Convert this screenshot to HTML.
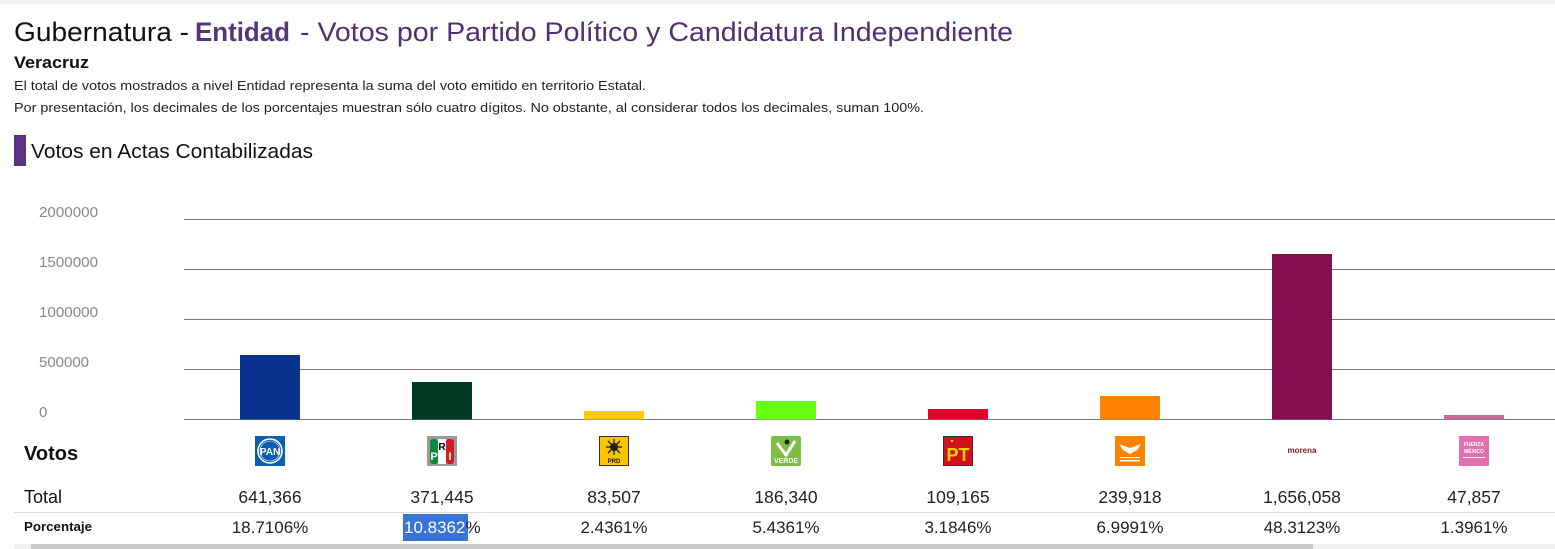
<!DOCTYPE html>
<html><head><meta charset="utf-8"><style>
html,body{margin:0;padding:0;background:#fff;width:1555px;height:549px;overflow:hidden}
svg{display:block}
text{font-family:"Liberation Sans",Arial,sans-serif}
</style></head><body>
<svg width="1555" height="549" viewBox="0 0 1555 549" xmlns="http://www.w3.org/2000/svg">
<rect x="0" y="0" width="1555" height="4" fill="#f2f2f2"/>
<!-- Title -->
<text x="14" y="41" font-size="27" fill="#111" textLength="175" lengthAdjust="spacingAndGlyphs">Gubernatura -</text>
<text x="195" y="41" font-size="27" font-weight="bold" fill="#553679" textLength="95" lengthAdjust="spacingAndGlyphs">Entidad</text>
<text x="300" y="41" font-size="27" fill="#52306f" textLength="713" lengthAdjust="spacingAndGlyphs">- Votos por Partido Político y Candidatura Independiente</text>
<text x="14" y="68" font-size="17" font-weight="bold" fill="#111" textLength="75" lengthAdjust="spacingAndGlyphs">Veracruz</text>
<text x="14" y="90" font-size="13" fill="#222" textLength="632" lengthAdjust="spacingAndGlyphs">El total de votos mostrados a nivel Entidad representa la suma del voto emitido en territorio Estatal.</text>
<text x="14" y="112" font-size="13" fill="#222" textLength="910" lengthAdjust="spacingAndGlyphs">Por presentación, los decimales de los porcentajes muestran sólo cuatro dígitos. No obstante, al considerar todos los decimales, suman 100%.</text>
<rect x="14" y="135" width="12" height="31" fill="#5a3480"/>
<text x="31" y="158" font-size="20" fill="#111" textLength="282" lengthAdjust="spacingAndGlyphs">Votos en Actas Contabilizadas</text>

<!-- Y labels -->
<g font-size="15" fill="#888">
<text x="39" y="217" textLength="59" lengthAdjust="spacingAndGlyphs">2000000</text>
<text x="39" y="267" textLength="59" lengthAdjust="spacingAndGlyphs">1500000</text>
<text x="39" y="317" textLength="59" lengthAdjust="spacingAndGlyphs">1000000</text>
<text x="39" y="367" textLength="50" lengthAdjust="spacingAndGlyphs">500000</text>
<text x="39" y="417">0</text>
</g>
<!-- Gridlines -->
<g stroke="#7a7a7a" stroke-width="1">
<line x1="184" y1="219.5" x2="1555" y2="219.5"/>
<line x1="184" y1="269.5" x2="1555" y2="269.5"/>
<line x1="184" y1="319.5" x2="1555" y2="319.5"/>
<line x1="184" y1="369.5" x2="1555" y2="369.5"/>
<line x1="184" y1="419.5" x2="1555" y2="419.5"/>
</g>
<!-- Bars -->
<rect x="240" y="355" width="60" height="64.5" fill="#0a338f"/>
<rect x="412" y="382" width="60" height="37.5" fill="#003a22"/>
<rect x="584" y="411" width="60" height="8.5" fill="#ffcc00"/>
<rect x="756" y="401" width="60" height="18.5" fill="#66ff10"/>
<rect x="928" y="409" width="60" height="10.5" fill="#e3002b"/>
<rect x="1100" y="396" width="60" height="23.5" fill="#ff8300"/>
<rect x="1272" y="254" width="60" height="165.5" fill="#850d52"/>
<rect x="1444" y="415" width="60" height="4.5" fill="#c8679a"/>

<!-- Table labels -->
<text x="24" y="460" font-size="20" font-weight="bold" fill="#111">Votos</text>
<text x="24" y="503" font-size="18" fill="#111">Total</text>
<line x1="14" y1="512.5" x2="1555" y2="512.5" stroke="#dcdcdc" stroke-width="1"/>
<text x="24" y="531" font-size="12.5" font-weight="bold" fill="#111" textLength="68" lengthAdjust="spacingAndGlyphs">Porcentaje</text>

<!-- Logos -->
<!-- PAN -->
<rect x="255" y="436" width="30" height="30" fill="#0c5fae"/>
<circle cx="270" cy="451" r="12" fill="none" stroke="#fff" stroke-width="1.6"/>
<circle cx="270" cy="451" r="10" fill="#0c5fae" stroke="#fff" stroke-width="0.6"/>
<text x="270" y="455" font-size="10" font-weight="bold" fill="#fff" text-anchor="middle">PAN</text>
<!-- PRI -->
<rect x="427" y="436" width="30" height="30" fill="#9a9a9a"/>
<rect x="430" y="439" width="8" height="25" fill="#0a8a3a" rx="3"/>
<rect x="438" y="439" width="8" height="25" fill="#fff"/>
<rect x="446" y="439" width="8" height="25" fill="#d41b24" rx="3"/>
<text x="434" y="460" font-size="11" font-weight="bold" fill="#fff" text-anchor="middle">P</text>
<text x="442" y="450" font-size="10" font-weight="bold" fill="#000" text-anchor="middle">R</text>
<text x="450" y="460" font-size="11" font-weight="bold" fill="#fff" text-anchor="middle">I</text>
<!-- PRD -->
<rect x="599.5" y="436.5" width="29" height="29" fill="#f9c500" stroke="#333" stroke-width="1"/>
<circle cx="614" cy="447" r="4" fill="#222"/>
<g stroke="#222" stroke-width="1.3">
<line x1="614" y1="439" x2="614" y2="455"/><line x1="606" y1="447" x2="622" y2="447"/>
<line x1="608" y1="441" x2="620" y2="453"/><line x1="620" y1="441" x2="608" y2="453"/>
</g>
<text x="614" y="463" font-size="6" font-weight="bold" fill="#222" text-anchor="middle">PRD</text>
<!-- VERDE -->
<rect x="771" y="436" width="30" height="30" fill="#7abf43" rx="2"/>
<path d="M777 443 L786 455 L795 441" stroke="#fff" stroke-width="3" fill="none"/>
<circle cx="787" cy="442" r="2.5" fill="#222"/>
<text x="786" y="463" font-size="7" font-weight="bold" fill="#fff" text-anchor="middle">VERDE</text>
<!-- PT -->
<rect x="943.5" y="436.5" width="29" height="29" fill="#d0101b" stroke="#333" stroke-width="1"/>
<text x="958" y="461" font-size="18" font-weight="bold" fill="#ffd200" text-anchor="middle">PT</text>
<circle cx="952" cy="441" r="1.3" fill="#ffd200"/>
<!-- MC -->
<rect x="1115" y="436" width="30" height="30" fill="#ff8300"/>
<path d="M1119 444 L1130 448 L1141 444 L1137 450 L1130 454 L1123 450 Z" fill="#fff"/>
<rect x="1120" y="457" width="20" height="1.2" fill="#fff"/>
<rect x="1120" y="460" width="20" height="1.5" fill="#fff"/>
<!-- morena -->
<text x="1302" y="453" font-size="8" font-weight="bold" fill="#7a1a2a" text-anchor="middle">morena</text>
<!-- FXM -->
<rect x="1459" y="436" width="30" height="30" fill="#e070b0"/>
<text x="1474" y="446" font-size="5" font-weight="bold" fill="#fff" text-anchor="middle">FUERZA</text>
<text x="1474" y="453" font-size="5" font-weight="bold" fill="#fff" text-anchor="middle">MÉXICO</text>
<rect x="1463" y="457" width="22" height="1" fill="#fff"/>

<!-- Totals -->
<g font-size="17.5" fill="#222" text-anchor="middle">
<text x="270" y="503">641,366</text>
<text x="442" y="503">371,445</text>
<text x="614" y="503">83,507</text>
<text x="786" y="503">186,340</text>
<text x="958" y="503">109,165</text>
<text x="1130" y="503">239,918</text>
<text x="1302" y="503">1,656,058</text>
<text x="1474" y="503">47,857</text>
</g>
<!-- Percentages -->
<rect x="403" y="514" width="65" height="27" fill="#3874d6"/>
<g font-size="17" fill="#222" text-anchor="middle">
<text x="270" y="533">18.7106%</text>
<text x="614" y="533">2.4361%</text>
<text x="786" y="533">5.4361%</text>
<text x="958" y="533">3.1846%</text>
<text x="1130" y="533">6.9991%</text>
<text x="1302" y="533">48.3123%</text>
<text x="1474" y="533">1.3961%</text>
</g>
<text x="404" y="533" font-size="17" fill="#fff">10.8362<tspan fill="#222">%</tspan></text>

<!-- Scrollbar -->
<rect x="14" y="544" width="1541" height="5" fill="#f1f1f1"/>
<rect x="31" y="544" width="1282" height="5" fill="#c8c8c8"/>
</svg>
</body></html>
